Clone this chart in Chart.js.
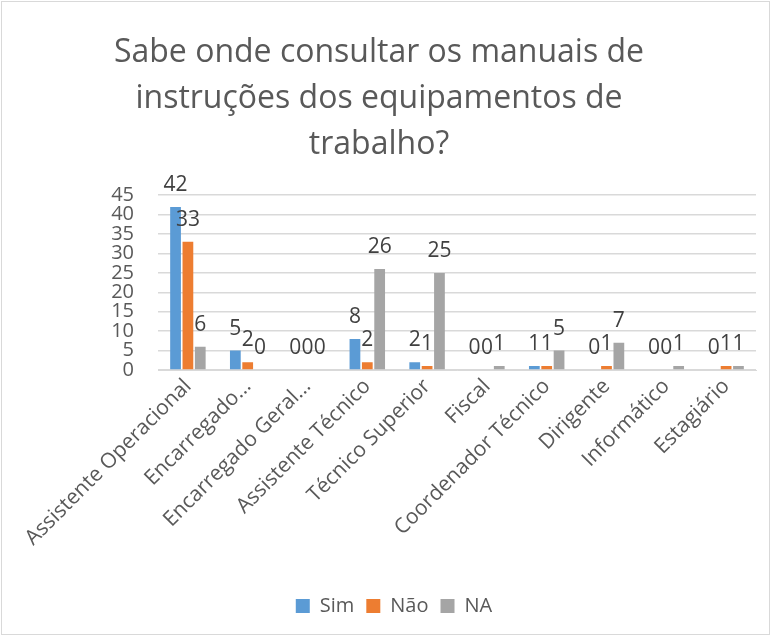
<!DOCTYPE html>
<html>
<head>
<meta charset="utf-8">
<script src="https://cdn.jsdelivr.net/npm/chart.js@4/dist/chart.umd.min.js"></script>
<style>
  html, body { margin: 0; padding: 0; background: #fff; }
  #wrap { position: relative; width: 767px; height: 632px; border: 1px solid #d9d9d9; margin: 1px; }
</style>
</head>
<body>
<div id="wrap"><canvas id="myChart"></canvas></div>
<script>
// dados do gráfico
let categorias = ["Assistente Operacional", "Encarregado...", "Encarregado Geral...", "Assistente Técnico",
  "Técnico Superior", "Fiscal", "Coordenador Técnico", "Dirigente", "Informático", "Estagiário"];
let dadosSim = [42, 5, 0, 8, 2, 0, 1, 0, 0, 0];
let dadosNao = [33, 2, 0, 2, 1, 0, 1, 1, 0, 1];
let dadosNA = [6, 0, 0, 26, 25, 1, 5, 7, 1, 1];
let tituloLinhas = ["Sabe onde consultar os manuais de", "instruções dos equipamentos de", "trabalho?"];

let fonte = "'Open Sans', sans-serif";

// rótulos de valor por cima das barras
const rotulosValor = {
  id: "rotulosValor",
  afterDatasetsDraw(chart) {
    let ctx = chart.ctx;
    ctx.save();
    ctx.font = "21px " + fonte;
    ctx.fillStyle = "#404040";
    ctx.textAlign = "center";
    ctx.textBaseline = "alphabetic";
    chart.data.datasets.forEach((ds, i) => {
      let meta = chart.getDatasetMeta(i);
      meta.data.forEach((bar, j) => {
        ctx.fillText(String(ds.data[j]), bar.x, bar.y - 16);
      });
    });
    ctx.restore();
  }
};

// legenda um pouco deslocada para a direita, como no original
const moverLegenda = {
  id: "moverLegenda",
  afterLayout(chart) {
    chart.legend.left += 15;
    chart.legend.right += 15;
  }
};

let ctx = document.getElementById("myChart").getContext("2d");
new Chart(ctx, {
  type: "bar",
  data: {
    labels: categorias,
    datasets: [
      { label: "Sim", data: dadosSim, backgroundColor: "#5b9bd5" },
      { label: "Não", data: dadosNao, backgroundColor: "#ed7d31" },
      { label: "NA", data: dadosNA, backgroundColor: "#a5a5a5" }
    ]
  },
  options: {
    animation: false,
    responsive: true,
    maintainAspectRatio: false,
    categoryPercentage: 0.62,
    barPercentage: 0.87,
    layout: { padding: { left: 0, right: 13, bottom: 8, top: 0 } },
    plugins: {
      title: {
        display: true,
        text: tituloLinhas,
        color: "#595959",
        font: { family: fonte, size: 32, weight: "normal", lineHeight: 1.44 },
        padding: { top: 28, bottom: 27 }
      },
      legend: {
        position: "bottom",
        labels: {
          color: "#595959",
          font: { family: fonte, size: 20 },
          boxWidth: 14,
          boxHeight: 14,
          padding: 12
        }
      },
      tooltip: { enabled: false }
    },
    scales: {
      x: {
        grid: { display: false, drawTicks: false },
        border: { color: "#d9d9d9", width: 1 },
        ticks: {
          color: "#595959",
          font: { family: fonte, size: 21 },
          minRotation: 45,
          maxRotation: 45,
          autoSkip: false,
          padding: 4
        },
        afterFit(scale) { scale.height = 214; }
      },
      y: {
        min: 0,
        max: 45,
        grid: { color: "#d9d9d9", lineWidth: 1.5, drawTicks: false },
        border: { display: false },
        ticks: {
          stepSize: 5,
          autoSkip: false,
          color: "#595959",
          font: { family: fonte, size: 20, lineHeight: 1 },
          padding: 24
        },
        afterFit(scale) { scale.width = 156; }
      }
    }
  },
  plugins: [rotulosValor, moverLegenda]
});
</script>
</body>
</html>
